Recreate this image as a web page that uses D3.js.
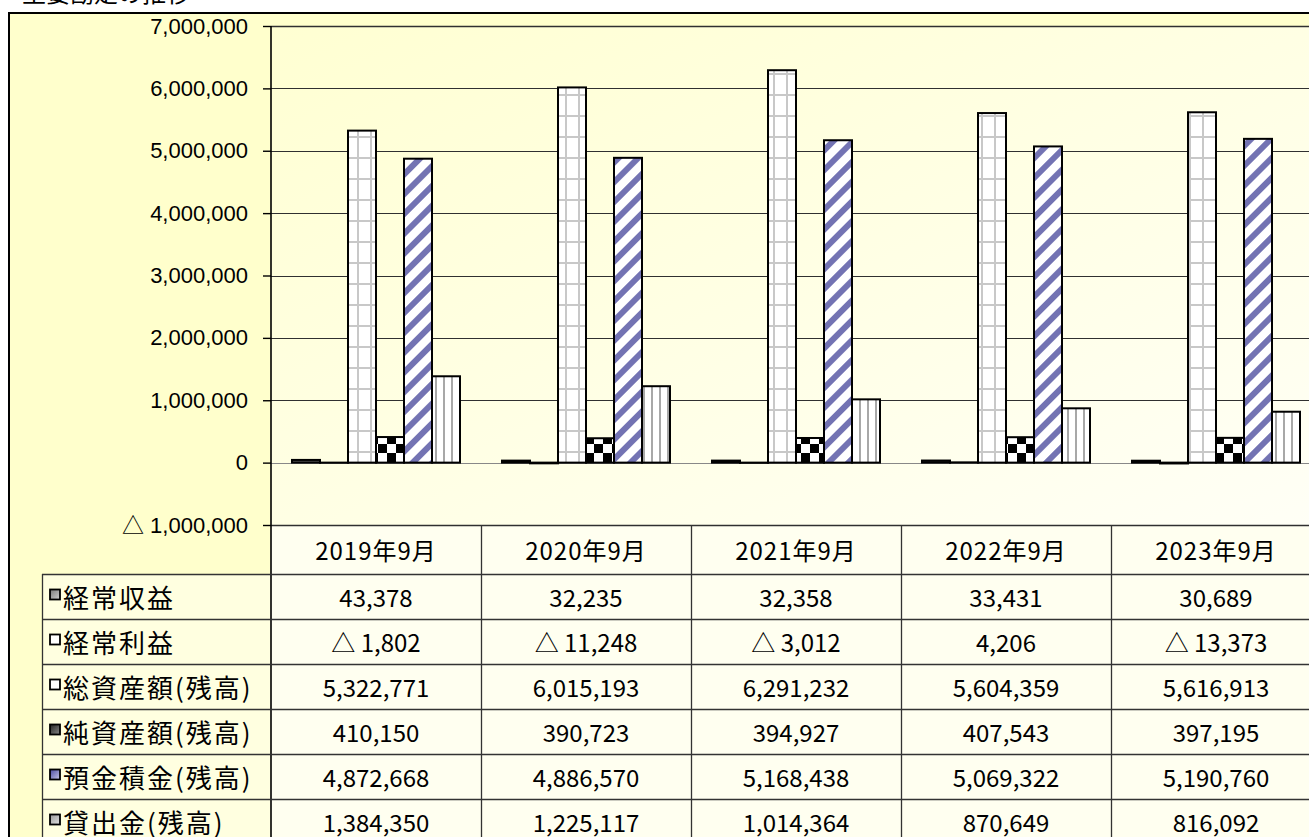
<!DOCTYPE html>
<html>
<head>
<meta charset="utf-8">
<script src="https://cdn.jsdelivr.net/npm/d3@7"></script>
<style>
  body { margin: 0; background: #ffffff; overflow: hidden; }
  svg { display: block; }
</style>
</head>
<body>
<svg id="svg"></svg>
<script>
// data (単位: 千円)
const categories = ["2019年9月", "2020年9月", "2021年9月", "2022年9月", "2023年9月"];
const seriesNames = ["経常収益", "経常利益", "総資産額(残高)", "純資産額(残高)", "預金積金(残高)", "貸出金(残高)"];
const keijoShueki = [43378, 32235, 32358, 33431, 30689];
const keijoRieki = [-1802, -11248, -3012, 4206, -13373];
const soShisan = [5322771, 6015193, 6291232, 5604359, 5616913];
const junShisan = [410150, 390723, 394927, 407543, 397195];
const yokin = [4872668, 4886570, 5168438, 5069322, 5190760];
const kashidashi = [1384350, 1225117, 1014364, 870649, 816092];
const yTicks = [-1000000, 0, 1000000, 2000000, 3000000, 4000000, 5000000, 6000000, 7000000];

const seriesValues = [keijoShueki, keijoRieki, soShisan, junShisan, yokin, kashidashi];
const seriesFills = ["url(#pDark)", "#ffffff", "url(#pGrid)", "url(#pCheck)", "url(#pDiag)", "url(#pVert)"];
const iconFills = ["url(#iDark)", "#ffffff", "#ffffff", "url(#iBlack)", "url(#iBlue)", "url(#iGray)"];

const w = 1309;
const h = 837;

// layout
const plotLeft = 271, plotRight = 1321, plotTop = 26, plotBottom = 525;
const tableLeft = 42, headerBottom = 574, rowH = 45;

let svg = d3.select("#svg").attr("width", w).attr("height", h);
let defs = svg.append("defs");

// patterns for the bars
let pGrid = defs.append("pattern").attr("id", "pGrid").attr("patternUnits", "userSpaceOnUse")
    .attr("width", 13).attr("height", 21);
pGrid.append("rect").attr("width", 13).attr("height", 21).attr("fill", "#ffffff");
pGrid.append("rect").attr("x", 6).attr("width", 2).attr("height", 21).attr("fill", "#c8c8c8");
pGrid.append("rect").attr("y", 10).attr("width", 13).attr("height", 2).attr("fill", "#c8c8c8");

let pCheck = defs.append("pattern").attr("id", "pCheck").attr("patternUnits", "userSpaceOnUse")
    .attr("width", 18).attr("height", 18).attr("y", 462);
pCheck.append("rect").attr("width", 18).attr("height", 18).attr("fill", "#ffffff");
pCheck.append("rect").attr("width", 9).attr("height", 9).attr("fill", "#000000");
pCheck.append("rect").attr("x", 9).attr("y", 9).attr("width", 9).attr("height", 9).attr("fill", "#000000");

let pDiag = defs.append("pattern").attr("id", "pDiag").attr("patternUnits", "userSpaceOnUse")
    .attr("width", 14).attr("height", 14).attr("patternTransform", "rotate(45)");
pDiag.append("rect").attr("width", 14).attr("height", 14).attr("fill", "#ffffff");
pDiag.append("rect").attr("width", 6).attr("height", 14).attr("fill", "#7373b3");

let pVert = defs.append("pattern").attr("id", "pVert").attr("patternUnits", "userSpaceOnUse")
    .attr("width", 8).attr("height", 8);
pVert.append("rect").attr("width", 8).attr("height", 8).attr("fill", "#ffffff");
pVert.append("rect").attr("x", 3).attr("width", 2).attr("height", 8).attr("fill", "#a8a8a8");

let pDark = defs.append("pattern").attr("id", "pDark").attr("patternUnits", "userSpaceOnUse")
    .attr("width", 4).attr("height", 4);
pDark.append("rect").attr("width", 4).attr("height", 4).attr("fill", "#555555");

// legend icon fills
function iconGrad(id, c1, c2) {
  let g = defs.append("linearGradient").attr("id", id)
      .attr("x1", "0").attr("y1", "0").attr("x2", "1").attr("y2", "1");
  g.append("stop").attr("offset", "0").attr("stop-color", c1);
  g.append("stop").attr("offset", "1").attr("stop-color", c2);
}
iconGrad("iDark", "#7a7a7a", "#d0d0d0");
iconGrad("iBlack", "#222222", "#888888");
iconGrad("iBlue", "#4a4aa0", "#c8c8e8");
iconGrad("iGray", "#9a9a9a", "#e0e0e0");

let bg = defs.append("linearGradient").attr("id", "plotBg")
    .attr("x1", "0").attr("y1", "0").attr("x2", "1").attr("y2", "1");
bg.append("stop").attr("offset", "0").attr("stop-color", "#ffffd2");
bg.append("stop").attr("offset", "1").attr("stop-color", "#fffff6");

// title, cut off by the top edge in the reference
svg.append("text")
    .attr("x", 22).attr("y", 2)
    .attr("font-family", "'Noto Sans CJK JP', sans-serif")
    .attr("font-size", "24px")
    .attr("fill", "#000")
    .text("主要勘定の推移");

// chart area
svg.append("rect")
    .attr("x", 9).attr("y", 13)
    .attr("width", 1400).attr("height", 900)
    .attr("fill", "#ffffcc")
    .attr("stroke", "#000").attr("stroke-width", 2);

// plot area
svg.append("rect")
    .attr("x", plotLeft).attr("y", plotTop)
    .attr("width", plotRight - plotLeft).attr("height", plotBottom - plotTop)
    .attr("fill", "url(#plotBg)");

// table background
svg.append("rect")
    .attr("x", plotLeft).attr("y", plotBottom)
    .attr("width", plotRight - plotLeft).attr("height", h - plotBottom)
    .attr("fill", "#fffff0");
svg.append("rect")
    .attr("x", tableLeft).attr("y", headerBottom)
    .attr("width", plotLeft - tableLeft).attr("height", h - headerBottom)
    .attr("fill", "#ffffe0");

// scales
const xScale = d3.scaleBand()
    .domain(categories)
    .range([plotLeft, plotRight])
    .paddingInner(0).paddingOuter(0);
const barInset = 21;
const xSub = d3.scaleBand()
    .domain(d3.range(seriesNames.length))
    .range([barInset, xScale.bandwidth() - barInset]);
const yScale = d3.scaleLinear()
    .domain([-1000000, 7000000])
    .range([plotBottom, plotTop]);

const fmt = d3.format(",");
function fmtTri(v) { return v < 0 ? "△ " + fmt(-v) : fmt(v); }

// gridlines
svg.append("g")
    .selectAll("line")
    .data(yTicks)
    .enter()
    .append("line")
    .attr("x1", plotLeft).attr("x2", plotRight)
    .attr("y1", d => Math.round(yScale(d)) + 0.5)
    .attr("y2", d => Math.round(yScale(d)) + 0.5)
    .attr("stroke", d => d === 0 ? "#888888" : "#303030")
    .attr("stroke-width", d => d === 7000000 || d === -1000000 ? 1.6 : 1);

// y axis
const yAxis = d3.axisLeft(yScale)
    .tickValues(yTicks)
    .tickSize(8)
    .tickPadding(15)
    .tickFormat(fmtTri);
let yG = svg.append("g")
    .attr("transform", "translate(" + plotLeft + ",0)")
    .call(yAxis);
yG.select(".domain").attr("stroke", "#000").attr("stroke-width", 1.6).attr("d", "M0," + plotTop + "V" + h);
yG.selectAll(".tick line").attr("stroke", "#000").attr("stroke-width", 1.4);
yG.selectAll("text")
    .attr("font-family", "'Liberation Sans', 'Noto Sans CJK JP', sans-serif")
    .attr("font-size", "22px")
    .attr("fill", "#000");

// bars
const flat = [];
seriesValues.forEach((vals, s) => {
  vals.forEach((v, c) => flat.push({ s: s, cat: categories[c], value: v }));
});
svg.append("g")
    .selectAll(".bar")
    .data(flat)
    .enter()
    .append("rect")
    .attr("class", "bar")
    .attr("x", d => xScale(d.cat) + xSub(d.s))
    .attr("y", d => yScale(Math.max(0, d.value)))
    .attr("width", xSub.bandwidth())
    .attr("height", d => Math.abs(yScale(d.value) - yScale(0)))
    .attr("fill", d => seriesFills[d.s])
    .attr("stroke", "#000")
    .attr("stroke-width", 2);

// data table
let table = svg.append("g");
const lineColor = "#333333";

// header row
categories.forEach((c, i) => {
  table.append("text")
      .attr("x", xScale(c) + xScale.bandwidth() / 2)
      .attr("y", (plotBottom + headerBottom) / 2)
      .attr("text-anchor", "middle")
      .attr("dominant-baseline", "central")
      .attr("font-family", "'Noto Sans CJK JP', sans-serif")
      .attr("font-size", "24px")
      .attr("letter-spacing", "1px")
      .text(c);
});

// vertical separators
categories.slice(1).forEach(c => {
  table.append("line")
      .attr("x1", xScale(c) + 0.5).attr("x2", xScale(c) + 0.5)
      .attr("y1", plotBottom).attr("y2", h)
      .attr("stroke", lineColor).attr("stroke-width", 1.3);
});
table.append("line")
    .attr("x1", tableLeft + 0.5).attr("x2", tableLeft + 0.5)
    .attr("y1", headerBottom).attr("y2", h)
    .attr("stroke", lineColor).attr("stroke-width", 1.3);

seriesNames.forEach((name, s) => {
  const top = headerBottom + s * rowH;
  table.append("line")
      .attr("x1", tableLeft).attr("x2", plotRight)
      .attr("y1", top + 0.5).attr("y2", top + 0.5)
      .attr("stroke", lineColor).attr("stroke-width", 1.3);

  table.append("rect")
      .attr("x", 50).attr("y", top + rowH / 2 - 7)
      .attr("width", 10).attr("height", 10)
      .attr("fill", iconFills[s])
      .attr("stroke", "#000").attr("stroke-width", 1.8);

  table.append("text")
      .attr("x", 63)
      .attr("y", top + rowH / 2)
      .attr("dominant-baseline", "central")
      .attr("font-family", "'Noto Sans CJK JP', sans-serif")
      .attr("font-size", "26px")
      .attr("letter-spacing", "2px")
      .text(name);

  seriesValues[s].forEach((v, c) => {
    table.append("text")
        .attr("x", xScale(categories[c]) + xScale.bandwidth() / 2)
        .attr("y", top + rowH / 2)
        .attr("text-anchor", "middle")
        .attr("dominant-baseline", "central")
        .attr("font-family", "'Noto Sans CJK JP', sans-serif")
        .attr("font-size", "24px")
        .text(fmtTri(v));
  });
});
</script>
</body>
</html>
